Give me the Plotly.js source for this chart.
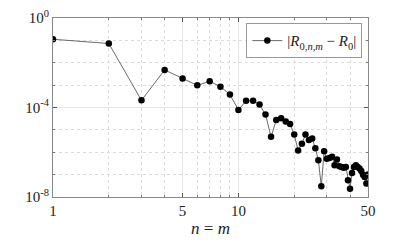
<!DOCTYPE html>
<html><head><meta charset="utf-8">
<script src="https://cdn.plot.ly/plotly-3.0.1.min.js"></script>
<style>html,body{margin:0;padding:0;background:#fff;}#chart{width:407px;height:243px;}</style>
</head><body><div id="chart"></div>
<script>
const nValues = [1,2,3,4,5,6,7,8,9,10,11,12,13,14,15,16,17,18,19,20,21,22,23,24,25,26,27,28,29,30,31,32,33,34,35,36,37,38,39,40,41,42,43,44,45,46,47,48,49,50];
const log10Error = [-0.95,-1.14,-3.68,-2.32,-2.70,-3.01,-2.83,-3.07,-3.42,-4.11,
  -3.70,-3.70,-3.87,-4.31,-5.31,-4.56,-4.48,-4.63,-4.74,-5.21,
  -5.92,-5.62,-5.21,-5.45,-5.38,-5.82,-6.36,-7.52,-5.96,-6.29,
  -6.26,-6.20,-6.58,-6.32,-6.63,-6.66,-6.69,-6.66,-7.25,-7.63,
  -6.93,-6.66,-6.58,-6.66,-6.73,-6.84,-7.00,-7.11,-7.40,-6.99];
const errorValues = log10Error.map(v => Math.pow(10, v));
const xTickVals = [1,5,10,50];
const xTickText = ['1','5','10','50'];
const xMinorVals = [2,3,4,6,7,8,9,20,30,40];
const yTickVals = [1,1e-4,1e-8];
const yTickText = ['10<sup>0</sup>','10<sup>-4</sup>','10<sup>-8</sup>'];
const yMinorVals = [1e-1,1e-2,1e-3,1e-5,1e-6,1e-7];
const seriesName = '|<i>R</i><sub>0,<i>n</i>,<i>m</i></sub> − <i>R</i><sub>0</sub>|';

const font = 'Times New Roman, Liberation Serif, serif';
const axisCommon = {
  type: 'log', showline: true, mirror: 'ticks', linecolor: '#8a8a8a', linewidth: 1,
  ticks: 'inside', ticklen: 4, tickcolor: '#555', showgrid: true, gridcolor: '#e6e6e6', gridwidth: 1,
  zeroline: false, tickfont: {family: font, size: 15, color: '#222'}
};
const trace = {
  x: nValues, y: errorValues, mode: 'lines+markers', name: seriesName,
  line: {color: '#444', width: 0.8}, marker: {color: '#000', size: 6.5, symbol: 'circle'}
};
const layout = {
  width: 407, height: 243, margin: {l: 53, r: 39, t: 18, b: 46},
  paper_bgcolor: '#fff', plot_bgcolor: '#fff', showlegend: true,
  font: {family: font, color: '#222'},
  xaxis: Object.assign({}, axisCommon, {
    range: [0, Math.log10(50)], tickmode: 'array', tickvals: xTickVals, ticktext: xTickText,
    minor: {tickmode: 'array', tickvals: xMinorVals, ticks: 'inside', ticklen: 2, tickcolor: '#777', showgrid: true, gridcolor: '#dcdcdc', griddash: 'dot', gridwidth: 1},
    title: {text: '<i>n</i> = <i>m</i>', font: {family: font, size: 17, color: '#222'}, standoff: 4}
  }),
  yaxis: Object.assign({}, axisCommon, {
    range: [-8, 0], tickmode: 'array', tickvals: yTickVals, ticktext: yTickText,
    minor: {tickmode: 'array', tickvals: yMinorVals, ticks: 'inside', ticklen: 2, tickcolor: '#777', showgrid: true, gridcolor: '#dcdcdc', griddash: 'dot', gridwidth: 1}
  }),
  legend: {x: 0.982, y: 0.97, xanchor: 'right', yanchor: 'top', bgcolor: '#fff', bordercolor: '#999', borderwidth: 1,
    font: {family: font, size: 15, color: '#222'}, itemwidth: 30, tracegroupgap: 0}
};
Plotly.newPlot('chart', [trace], layout, {displayModeBar: false, staticPlot: true});
</script></body></html>
